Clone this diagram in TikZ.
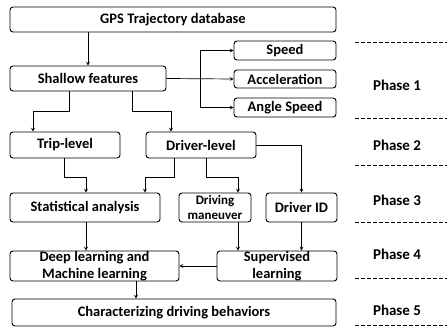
\documentclass[tikz,border=0pt]{standalone}
\usepackage{fontspec}
\setmainfont{Carlito}
\usepackage{tikz}
\usetikzlibrary{arrows, positioning}

\tikzset{
    stage/.style={draw, rounded corners=3pt, line width=0.9pt, inner sep=0pt,
        align=center, font=\bfseries\fontsize{14.5}{17.5}\selectfont},
    twoline/.style={inner ysep=-2pt},
    link/.style={->, >=stealth, line width=0.7pt},
    sep/.style={line width=0.8pt, dash pattern=on 4pt off 2pt},
    phase/.style={font=\bfseries\fontsize{15}{18}\selectfont},
}

\begin{document}
\begin{tikzpicture}[x=1pt, y=-1pt]
    \useasboundingbox (0,0) rectangle (447,328);

    % Boxes of the pipeline
    \node[stage, minimum width=326pt, minimum height=25pt] (gps) at (173,19.5) {GPS Trajectory database};
    \node[stage, minimum width=156pt, minimum height=25pt] (shallow) at (88,78.5) {Shallow features};
    \node[stage, minimum width=102pt, minimum height=19pt] (speed) at (285,50.5) {Speed};
    \node[stage, minimum width=102pt, minimum height=18pt] (accel) at (285,79) {Acceleration};
    \node[stage, minimum width=102pt, minimum height=19pt] (angle) at (285,107.5) {Angle Speed};

    \node[stage, minimum width=110pt, minimum height=26pt] (trip) at (65,145) {Trip-level};
    \node[stage, minimum width=110pt, minimum height=26pt] (driver) at (201,145) {Driver-level};

    \node[stage, minimum width=150pt, minimum height=29pt] (stat) at (85,207.5) {Statistical analysis};
    \node[stage, twoline, minimum width=72pt, minimum height=29pt, font=\bfseries\fontsize{13}{15.5}\selectfont] (maneuver) at (215,207.5) {Driving\\maneuver};
    \node[stage, minimum width=71pt, minimum height=29pt] (driverid) at (301.5,207.5) {Driver ID};

    \node[stage, twoline, minimum width=169pt, minimum height=30pt] (deep) at (94.5,266) {Deep learning and\\Machine learning};
    \node[stage, twoline, minimum width=120pt, minimum height=30pt] (superv) at (277,266) {Supervised\\learning};

    \node[stage, minimum width=324pt, minimum height=27pt] (charact) at (174,312.5) {Characterizing driving behaviors};

    % Connectors
    \coordinate (split) at (200,78.5);
    \draw[link] (gps.south -| shallow) -- (shallow.north);
    \draw[link] (shallow.east) -- (accel.west);
    \draw[link] (split) |- (speed.west);
    \draw[link] (split) |- (angle.west);

    \draw[link] ([xshift=-19pt]shallow.south) -- ++(0,20) -| ([xshift=-32pt]trip.north);
    \draw[link] ([xshift=44pt]shallow.south) -- ++(0,20) -| ([xshift=-30pt]driver.north);
    \draw[link] (driver.east) -| (driverid.north);

    \draw[link] ([xshift=-1pt]trip.south) -- ++(0,19) -| ([xshift=1pt]stat.north);
    \draw[link] ([xshift=-27pt]driver.south) -- ++(0,19) -| ([xshift=60pt]stat.north);
    \draw[link] ([xshift=5pt]driver.south) -- ++(0,19) -| ([xshift=23pt]maneuver.north);

    \draw[link] ([xshift=1pt]stat.south) -- ([xshift=1pt]stat.south |- deep.north);
    \draw[link] ([xshift=23pt]maneuver.south) -- ([xshift=23pt]maneuver.south |- superv.north);
    \draw[link] (driverid.south) -- (driverid.south |- superv.north);
    \draw[link] (superv.west) -- (deep.east);
    \draw[link] ([xshift=41.5pt]deep.south) -- ([xshift=41.5pt]deep.south |- charact.north);

    % Phase column
    \foreach \y in {42,118,165,222,278,325}
        \draw[sep] (355,\y) -- (447,\y);
    \foreach \y/\n in {85/1,145/2,200/3,254/4,310/5}
        \node[phase] (phase\n) at (397,\y) {Phase \n};
\end{tikzpicture}
\end{document}
